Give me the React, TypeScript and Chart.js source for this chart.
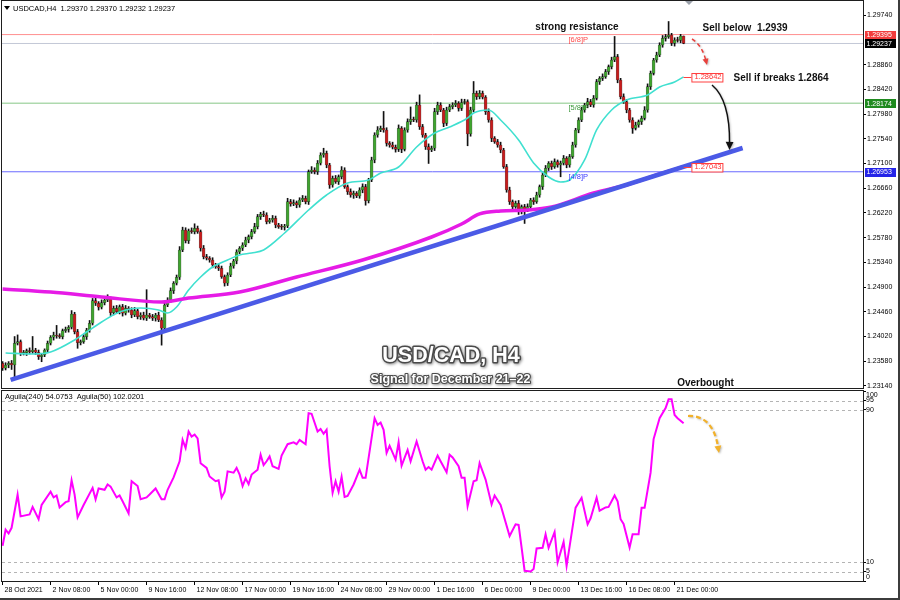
import React, { useEffect, useRef } from "react";
import { Chart, registerables } from "chart.js";

Chart.register(...registerables);

const FONT = '"Liberation Sans", Arial, sans-serif';

// ---------------- DATA ----------------
const firstOpen = 1.23544;

const closes = [
  1.23455, 1.23514, 1.23544, 1.23514, 1.239, 1.23929, 1.23722, 1.23733, 1.23768, 1.23751,
  1.23781, 1.2374, 1.23662, 1.23692, 1.23781, 1.239, 1.24007, 1.24048, 1.2403, 1.24018,
  1.24124, 1.24149, 1.24185, 1.24422, 1.24107, 1.23911, 1.23929, 1.24018, 1.24137, 1.24256,
  1.24658, 1.24612, 1.24541, 1.24623, 1.24671, 1.24694, 1.24445, 1.24523, 1.24463, 1.24552,
  1.24434, 1.24523, 1.24493, 1.24404, 1.2448, 1.24374, 1.24404, 1.24345, 1.24404, 1.24374,
  1.24345, 1.24404, 1.24315, 1.24167, 1.24582, 1.24671, 1.24836, 1.24968, 1.25075, 1.25561,
  1.25917, 1.25726, 1.25904, 1.25887, 1.25947, 1.25887, 1.25591, 1.25442, 1.25413, 1.25383,
  1.25294, 1.25264, 1.25235, 1.25086, 1.24968, 1.25116, 1.25276, 1.25365, 1.25525, 1.25591,
  1.2565, 1.25739, 1.25798, 1.25887, 1.25976, 1.26154, 1.26202, 1.26184, 1.26065, 1.26095,
  1.26125, 1.26006, 1.25976, 1.25965, 1.25988, 1.26421, 1.2638, 1.26403, 1.26362, 1.26451,
  1.26481, 1.26421, 1.26955, 1.26985, 1.26955, 1.27104, 1.27252, 1.27282, 1.27074, 1.26718,
  1.26837, 1.26777, 1.26866, 1.26985, 1.26688, 1.26599, 1.2654, 1.2657, 1.26522, 1.26629,
  1.26688, 1.26438, 1.26807, 1.27163, 1.27608, 1.27697, 1.27727, 1.27697, 1.2746, 1.2743,
  1.27389, 1.27353, 1.27727, 1.27353, 1.27697, 1.27845, 1.27887, 1.27875, 1.28142, 1.27756,
  1.27608, 1.274, 1.27341, 1.27371, 1.28023, 1.28142, 1.28053, 1.27816, 1.28053, 1.28112,
  1.28142, 1.28172, 1.28083, 1.28186, 1.28204, 1.27626, 1.28053, 1.2835, 1.2829, 1.2835,
  1.28279, 1.28023, 1.27875, 1.27549, 1.27489, 1.2743, 1.27341, 1.27044, 1.26629, 1.26421,
  1.26332, 1.26392, 1.26243, 1.26332, 1.26273, 1.26332, 1.26451, 1.26421, 1.2654, 1.26688,
  1.26896, 1.27015, 1.27104, 1.27044, 1.27133, 1.27074, 1.27104, 1.27193, 1.27074, 1.27222,
  1.2743, 1.27697, 1.27875, 1.28053, 1.28142, 1.28201, 1.28142, 1.28261, 1.28557, 1.28617,
  1.28646, 1.28735, 1.28824, 1.28943, 1.29002, 1.28587, 1.2829, 1.28201, 1.28053, 1.27875,
  1.27727, 1.27786, 1.27845, 1.27905, 1.28053, 1.28468, 1.28706, 1.28943, 1.29032, 1.2921,
  1.29329, 1.29358, 1.29388, 1.2924, 1.29299, 1.2929, 1.2937, 1.29237,
];

// upper / lower shadow length of each candle, in pips
const wickUpPips = [
  3, 4, 3, 5, 12, 12, 3, 4, 3, 5,
  24, 3, 4, 3, 2, 4, 3, 5, 17, 4,
  3, 4, 3, 6, 3, 4, 3, 4, 3, 5,
  4, 6, 3, 5, 4, 7, 3, 4, 5, 3,
  4, 5, 3, 4, 6, 3, 4, 5, 45, 3,
  4, 3, 5, 4, 3, 4, 5, 3, 4, 6,
  5, 4, 3, 5, 8, 4, 3, 5, 4, 3,
  4, 3, 5, 4, 3, 4, 5, 3, 4, 3,
  4, 5, 3, 4, 6, 4, 3, 5, 4, 3,
  5, 4, 3, 4, 3, 6, 4, 5, 3, 4,
  5, 4, 3, 6, 4, 5, 4, 9, 4, 3,
  4, 5, 3, 6, 4, 3, 5, 4, 3, 4,
  5, 4, 3, 5, 4, 6, 4, 30, 4, 3,
  5, 4, 6, 3, 4, 5, 22, 4, 5, 18,
  4, 3, 5, 4, 6, 5, 4, 3, 5, 4,
  4, 5, 3, 6, 4, 3, 5, 21, 4, 5,
  4, 3, 5, 4, 3, 4, 5, 3, 4, 5,
  3, 4, 5, 3, 4, 5, 3, 4, 5, 3,
  4, 5, 3, 4, 5, 3, 4, 5, 3, 4,
  5, 3, 4, 5, 3, 6, 4, 5, 4, 3,
  5, 4, 3, 5, 36, 4, 3, 5, 4, 3,
  4, 5, 3, 4, 6, 5, 4, 3, 5, 4,
  5, 4, 24, 3, 4, 5, 3, 0,
];
const wickDnPips = [
  4, 3, 5, 8, 21, 3, 4, 3, 5, 4,
  3, 4, 5, 9, 3, 4, 3, 5, 4, 3,
  4, 3, 5, 3, 4, 10, 4, 3, 5, 4,
  3, 4, 5, 3, 4, 3, 5, 4, 3, 4,
  5, 3, 4, 5, 3, 4, 5, 3, 4, 3,
  4, 5, 3, 30, 4, 3, 4, 5, 3, 4,
  3, 4, 5, 3, 4, 3, 5, 4, 3, 4,
  5, 3, 4, 3, 5, 4, 3, 4, 5, 3,
  4, 3, 5, 4, 3, 4, 5, 3, 4, 3,
  4, 5, 3, 4, 5, 3, 4, 3, 5, 4,
  3, 4, 5, 3, 4, 5, 3, 4, 5, 6,
  4, 3, 5, 4, 3, 5, 4, 6, 3, 4,
  5, 8, 4, 3, 5, 4, 3, 4, 5, 4,
  3, 5, 4, 6, 3, 4, 5, 3, 4, 5,
  4, 5, 24, 3, 4, 5, 3, 6, 4, 3,
  4, 3, 5, 4, 3, 21, 4, 3, 5, 4,
  3, 5, 4, 6, 3, 4, 5, 3, 4, 5,
  4, 3, 5, 4, 24, 3, 4, 5, 3, 4,
  5, 3, 4, 5, 3, 4, 21, 3, 5, 4,
  3, 4, 5, 3, 4, 5, 3, 4, 3, 5,
  4, 3, 5, 4, 3, 5, 4, 3, 5, 4,
  9, 3, 4, 5, 3, 4, 5, 3, 4, 3,
  4, 5, 3, 4, 5, 3, 4, 0.5,
];

const dateTickBars = [0, 16, 32, 48, 64, 80, 96, 112, 128, 144, 160, 176, 192, 208, 224];
const dateTickLabels = [
  "28 Oct 2021", "2 Nov 08:00", "5 Nov 00:00", "9 Nov 16:00", "12 Nov 08:00",
  "17 Nov 00:00", "19 Nov 16:00", "24 Nov 08:00", "29 Nov 00:00", "1 Dec 16:00",
  "6 Dec 00:00", "9 Dec 00:00", "13 Dec 16:00", "16 Dec 08:00", "21 Dec 00:00",
];

const priceTicks = [
  1.2314, 1.2358, 1.2402, 1.2446, 1.249, 1.2534, 1.2578, 1.2622, 1.2666,
  1.271, 1.2754, 1.2798, 1.2842, 1.2886, 1.2974,
];

// fast moving average (cyan)
const maFastBars = [1, 10, 16, 24, 28, 33, 39, 46, 52, 55, 58, 62, 66, 70, 75, 79, 83, 87, 94, 102, 108, 115, 122, 126, 132, 138, 144, 149, 155, 157, 162, 166, 172, 177, 182, 186, 189, 194, 198, 203, 208, 215, 219, 224, 227];
const maFastVals = [1.23727, 1.2371, 1.23745, 1.23959, 1.24101, 1.24279, 1.24457, 1.24528, 1.24493, 1.24439, 1.24546, 1.24849, 1.2508, 1.25258, 1.25383, 1.25472, 1.25507, 1.25561, 1.25863, 1.26273, 1.2654, 1.26753, 1.26807, 1.26931, 1.27038, 1.27394, 1.27643, 1.2775, 1.2791, 1.27999, 1.28053, 1.27875, 1.27519, 1.27109, 1.2686, 1.26771, 1.26807, 1.27163, 1.27697, 1.28053, 1.28231, 1.2832, 1.28462, 1.28551, 1.28642];

// slow moving average (magenta)
const maSlowBars = [0, 16, 33, 53, 62, 79, 98, 120, 143, 153, 159, 166, 175, 183, 197, 208, 219, 227];
const maSlowVals = [1.24867, 1.24813, 1.24724, 1.24635, 1.24706, 1.24813, 1.2508, 1.25383, 1.25792, 1.26024, 1.26202, 1.26255, 1.26273, 1.26326, 1.26575, 1.26718, 1.26914, 1.27043];

// rising trend line
const trendBars = [2.67, 246.67];
const trendVals = [1.23247, 1.27376];

// horizontal levels
const levelResistance = 1.29395;
const levelLast = 1.29237;
const level58 = 1.28174;
const level48 = 1.26953;

// oscillator (lower pane)
const aguilaBars = [
  0, 1, 2, 3, 5, 6, 9, 10, 12, 13,
  16, 17, 18, 19, 21, 22, 23, 24, 25, 27,
  30, 31, 32, 34, 35, 36, 38, 39, 40, 42,
  43, 45, 46, 48, 49, 51, 53, 54, 55, 57,
  59, 60, 61, 62, 63, 64, 65, 66, 68, 69,
  71, 72, 73, 74, 75, 77, 78, 79, 80, 81,
  82, 83, 85, 86, 87, 88, 89, 90, 92, 93,
  95, 97, 98, 99, 101, 102, 103, 105, 106, 107,
  108, 109, 110, 111, 112, 113, 114, 115, 117, 119,
  120, 121, 124, 125, 126, 127, 128, 129, 131, 132,
  133, 135, 136, 138, 140, 141, 142, 143, 145, 146,
  148, 149, 150, 152, 153, 154, 155, 157, 158, 159,
  161, 163, 164, 166, 169, 171, 172, 173, 174, 176,
  177, 178, 180, 181, 182, 184, 185, 187, 188, 191,
  193, 195, 196, 198, 199, 201, 202, 204, 205, 206,
  207, 209, 210, 212, 213, 214, 216, 217, 219, 221,
  222, 223, 224, 225, 227,
];
const aguilaVals = [
  18.5, 27, 25, 28, 45.5, 34, 35, 39, 32.5, 40,
  47, 44, 45, 38.7, 41.5, 42, 53, 45.5, 33.5, 40,
  49, 43, 48.7, 48, 50.8, 49.7, 44, 45, 42, 35.6,
  52.5, 50, 43, 44, 45.5, 48.7, 43, 43, 48, 54.5,
  63, 74.3, 70, 78.7, 76, 77, 75, 62, 59.5, 55,
  52.5, 53, 44, 47, 57.7, 57, 59.5, 56, 50, 54,
  51, 56, 58.6, 66.5, 61, 63, 65.6, 60.4, 59, 66,
  72, 73, 72, 74.3, 72, 88.3, 88, 78.7, 80, 77.5,
  79.6, 60.4, 46.4, 52.5, 47, 54.8, 44.3, 44.8, 50.8, 58.6,
  54.3, 54.3, 85.7, 82.2, 83.4, 79.6, 67.4, 71.2, 63.9, 73,
  60.7, 69, 63, 73.5, 63, 58.6, 60, 58.6, 66, 63,
  57.2, 66.5, 65, 60.4, 54.3, 54.3, 39.4, 52.5, 53, 62,
  53.4, 40.3, 45, 40, 23.7, 29.8, 29.5, 17.6, 5.4, 5,
  6.3, 17.1, 17.5, 24.6, 17.5, 25.8, 9.8, 20.6, 8, 38.6,
  43.8, 29.8, 33, 43.8, 37, 38.7, 39, 45, 42, 32.5,
  30, 17.6, 24.6, 24.6, 38.6, 38.6, 57, 74.7, 85.7, 91,
  95.6, 95.6, 87.4, 85.7, 83,
];
const aguilaLevels = [5, 10, 90, 95];
const aguilaTicks = [0, 5, 10, 90, 95, 100];

// ---------------- LAYOUT CONSTANTS ----------------
const X_MIN = -0.2;
const X_MAX = 286.8;
const AXIS_W = 37;

const opens = closes.map((c, i) => (i === 0 ? firstOpen : closes[i - 1]));
const highs = closes.map((c, i) => Math.max(c, opens[i]) + wickUpPips[i] * 0.0001);
const lows = closes.map((c, i) => Math.min(c, opens[i]) - wickDnPips[i] * 0.0001);

function drawArrow(ctx: CanvasRenderingContext2D, p: number[], color: string, dash: number[], width: number, head: number) {
  const [x0, y0, cx, cy, x1, y1] = p;
  ctx.save();
  ctx.shadowColor = "rgba(0,0,0,0.25)";
  ctx.shadowBlur = 2;
  ctx.shadowOffsetX = 1;
  ctx.shadowOffsetY = 1;
  ctx.strokeStyle = color;
  ctx.fillStyle = color;
  ctx.lineWidth = width;
  ctx.setLineDash(dash);
  const ang = Math.atan2(y1 - cy, x1 - cx);
  const ex = x1 - Math.cos(ang) * head * 0.7;
  const ey = y1 - Math.sin(ang) * head * 0.7;
  ctx.beginPath();
  ctx.moveTo(x0, y0);
  ctx.quadraticCurveTo(cx, cy, ex, ey);
  ctx.stroke();
  ctx.setLineDash([]);
  ctx.beginPath();
  ctx.moveTo(x1, y1);
  ctx.lineTo(x1 - Math.cos(ang - 0.45) * head, y1 - Math.sin(ang - 0.45) * head);
  ctx.lineTo(x1 - Math.cos(ang + 0.45) * head, y1 - Math.sin(ang + 0.45) * head);
  ctx.closePath();
  ctx.fill();
  ctx.restore();
}

function outlinedText(ctx: CanvasRenderingContext2D, text: string, x: number, y: number, font: string, stroke: number) {
  ctx.save();
  ctx.font = font;
  ctx.textAlign = "center";
  ctx.textBaseline = "middle";
  ctx.lineJoin = "round";
  ctx.shadowColor = "rgba(0,0,0,0.45)";
  ctx.shadowBlur = 3;
  ctx.shadowOffsetX = 1;
  ctx.shadowOffsetY = 1;
  ctx.strokeStyle = "#4a4a4a";
  ctx.lineWidth = stroke;
  ctx.strokeText(text, x, y);
  ctx.shadowColor = "transparent";
  ctx.fillStyle = "#ffffff";
  ctx.fillText(text, x, y);
  ctx.restore();
}

const mainDecor = {
  id: "mainDecor",
  afterDatasetsDraw(chart: any) {
    const { ctx, chartArea: a, scales } = chart;
    const xs = scales.x;
    const ys = scales.y;
    ctx.save();

    // pane frame
    ctx.strokeStyle = "#1e1e1e";
    ctx.lineWidth = 1;
    ctx.strokeRect(a.left - 0.5, a.top - 0.5, a.right - a.left + 1, a.bottom - a.top + 1);

    // header
    ctx.fillStyle = "#000";
    ctx.beginPath();
    ctx.moveTo(4, 6);
    ctx.lineTo(10, 6);
    ctx.lineTo(7, 10);
    ctx.closePath();
    ctx.fill();
    ctx.font = `7.5px ${FONT}`;
    ctx.textAlign = "left";
    ctx.textBaseline = "middle";
    ctx.fillText("USDCAD,H4  1.29370 1.29370 1.29232 1.29237", 13, 8.5);

    // shift marker
    ctx.fillStyle = "#9aa0aa";
    ctx.beginPath();
    ctx.moveTo(685, 1);
    ctx.lineTo(693, 1);
    ctx.lineTo(689, 5);
    ctx.closePath();
    ctx.fill();

    // Murrey-style tags on the levels
    const tagX = xs.getPixelForValue(188.6);
    ctx.font = `7.5px ${FONT}`;
    ctx.textAlign = "left";
    ctx.textBaseline = "middle";
    [
      { t: "[6/8]P", v: levelResistance, c: "#ff4a4a" },
      { t: "[5/8]P", v: level58, c: "#3f9a3f" },
      { t: "[4/8]P", v: level48, c: "#3a3aff" },
    ].forEach((g) => {
      ctx.fillStyle = g.c;
      ctx.fillText(g.t, tagX, ys.getPixelForValue(g.v) + 5);
    });

    // moving average value tags
    const lastBarX = xs.getPixelForValue(closes.length - 1);
    const boxX = xs.getPixelForValue(229.6);
    [maFastVals[maFastVals.length - 1], maSlowVals[maSlowVals.length - 1]].forEach((v) => {
      const py = ys.getPixelForValue(v);
      ctx.strokeStyle = "#ff4040";
      ctx.lineWidth = 1;
      ctx.beginPath();
      ctx.moveTo(lastBarX, Math.round(py) + 0.5);
      ctx.lineTo(boxX, Math.round(py) + 0.5);
      ctx.stroke();
      ctx.fillStyle = "#ffffff";
      ctx.fillRect(boxX + 0.5, Math.round(py) - 4, 31, 9);
      ctx.strokeRect(boxX + 0.5, Math.round(py) - 3.5, 31, 8.5);
      ctx.fillStyle = "#ff3030";
      ctx.font = `7.5px ${FONT}`;
      ctx.fillText(v.toFixed(5), boxX + 3, py + 0.5);
    });

    // price tags on right axis
    [
      { v: levelResistance, bg: "#f23c3c" },
      { v: levelLast, bg: "#000000" },
      { v: level58, bg: "#1f8a1f" },
      { v: level48, bg: "#2424e8" },
    ].forEach((g) => {
      const py = ys.getPixelForValue(g.v);
      ctx.fillStyle = g.bg;
      ctx.fillRect(a.right + 2, Math.round(py) - 4, 31, 9);
      ctx.fillStyle = "#ffffff";
      ctx.font = `7px ${FONT}`;
      ctx.fillText(g.v.toFixed(5), a.right + 3.5, py + 0.5);
    });

    // annotations
    ctx.fillStyle = "#111";
    ctx.font = `bold 10px ${FONT}`;
    ctx.textAlign = "center";
    ctx.fillText("strong resistance", 577, 27.5);
    ctx.textAlign = "left";
    ctx.fillText("Sell below  1.2939", 702.5, 28);
    ctx.fillText("Sell if breaks 1.2864", 733.5, 78.5);
    ctx.textAlign = "center";
    ctx.fillText("Overbought", 705.5, 383);

    outlinedText(ctx, "USD/CAD, H4", 451, 356, `bold 21.5px ${FONT}`, 3);
    outlinedText(ctx, "Signal for December 21\u201322", 450.5, 380, `bold 12.5px ${FONT}`, 2.2);

    drawArrow(ctx, [692, 39, 702, 45, 707, 65], "#e8403c", [4, 3], 1.5, 7);
    drawArrow(ctx, [712, 85, 730, 100, 729.5, 150], "#111111", [], 1.5, 9);

    ctx.restore();
  },
};

const subDecor = {
  id: "subDecor",
  beforeDatasetsDraw(chart: any) {
    const { ctx, chartArea: a, scales } = chart;
    ctx.save();
    ctx.strokeStyle = "#b4b4b4";
    ctx.lineWidth = 1;
    ctx.setLineDash([3, 3]);
    aguilaLevels.forEach((v) => {
      const py = Math.round(scales.y.getPixelForValue(v)) + 0.5;
      ctx.beginPath();
      ctx.moveTo(a.left, py);
      ctx.lineTo(a.right, py);
      ctx.stroke();
    });
    ctx.restore();
  },
  afterDatasetsDraw(chart: any) {
    const { ctx, chartArea: a, scales } = chart;
    ctx.save();
    ctx.strokeStyle = "#1e1e1e";
    ctx.lineWidth = 1;
    ctx.strokeRect(a.left - 0.5, a.top - 0.5, a.right - a.left + 1, a.bottom - a.top + 1);

    ctx.fillStyle = "#000";
    ctx.font = `7.5px ${FONT}`;
    ctx.textAlign = "left";
    ctx.textBaseline = "middle";
    ctx.fillText("Aguila(240) 54.0753  Aguila(50) 102.0201", 5, 7);

    ctx.font = `7px ${FONT}`;
    aguilaTicks.forEach((v) => {
      let py = scales.y.getPixelForValue(v);
      py = Math.max(a.top + 4, Math.min(a.bottom - 4, py));
      ctx.fillText(String(v), a.right + 3, py);
    });

    drawArrow(ctx, [688, 26, 713, 25, 719, 63], "#f2b12a", [5, 3], 2.2, 8);
    ctx.restore();
  },
};

function mainConfig(): any {
  const bodies = closes.map((c, i) => ({ x: i, y: [opens[i], c] }));
  const wicks = closes.map((c, i) => ({ x: i, y: [lows[i], highs[i]] }));
  const bodyColors = closes.map((c, i) => (c >= opens[i] ? "#3fa52e" : "#c81c1c"));
  const hLine = (v: number, color: string, order: number) => ({
    type: "line",
    data: [{ x: X_MIN, y: v }, { x: X_MAX, y: v }],
    borderColor: color,
    borderWidth: 1,
    pointRadius: 0,
    order,
  });
  return {
    type: "bar",
    data: {
      datasets: [
        {
          type: "line",
          data: trendBars.map((b, i) => ({ x: b, y: trendVals[i] })),
          borderColor: "#4b5ae6",
          borderWidth: 4.5,
          pointRadius: 0,
          order: 1,
        },
        {
          type: "line",
          data: maSlowBars.map((b, i) => ({ x: b, y: maSlowVals[i] })),
          borderColor: "#e61be6",
          borderWidth: 3.5,
          pointRadius: 0,
          cubicInterpolationMode: "monotone",
          order: 2,
        },
        {
          type: "line",
          data: maFastBars.map((b, i) => ({ x: b, y: maFastVals[i] })),
          borderColor: "#40e0d0",
          borderWidth: 1.6,
          pointRadius: 0,
          cubicInterpolationMode: "monotone",
          order: 3,
        },
        {
          type: "bar",
          data: bodies,
          backgroundColor: bodyColors,
          borderColor: "rgba(0,0,0,0.55)",
          borderWidth: 0.6,
          borderSkipped: false,
          barThickness: 3,
          minBarLength: 1,
          grouped: false,
          order: 4,
        },
        {
          type: "bar",
          data: wicks,
          backgroundColor: "#111111",
          borderWidth: 0,
          barThickness: 1,
          grouped: false,
          order: 5,
        },
        hLine(levelResistance, "#ff8f8f", 6),
        hLine(levelLast, "#c3c8d6", 7),
        hLine(level58, "#86c786", 8),
        hLine(level48, "#6a6aff", 9),
      ],
    },
    options: {
      animation: false,
      responsive: false,
      devicePixelRatio: 1,
      layout: { padding: { top: 1, left: 2, right: 0, bottom: 2 } },
      plugins: { legend: { display: false }, tooltip: { enabled: false } },
      scales: {
        x: { type: "linear", min: X_MIN, max: X_MAX, display: false, offset: false },
        y: {
          position: "right",
          min: 1.23104,
          max: 1.29993,
          afterFit: (s: any) => {
            s.width = AXIS_W;
            s.paddingTop = 0;
            s.paddingBottom = 0;
          },
          afterBuildTicks: (s: any) => {
            s.ticks = priceTicks.map((v) => ({ value: v }));
          },
          ticks: {
            callback: (v: any) => Number(v).toFixed(5),
            font: { size: 7, family: FONT },
            color: "#000",
            padding: 1,
            autoSkip: false,
          },
          grid: { drawOnChartArea: false, drawTicks: true, tickLength: 3, color: "#000" },
          border: { display: false },
        },
      },
    },
    plugins: [mainDecor],
  };
}

function subConfig(): any {
  return {
    type: "line",
    data: {
      datasets: [
        {
          data: aguilaBars.map((b, i) => ({ x: b, y: aguilaVals[i] })),
          borderColor: "#ff00ff",
          borderWidth: 2,
          pointRadius: 0,
          tension: 0,
        },
      ],
    },
    options: {
      animation: false,
      responsive: false,
      devicePixelRatio: 1,
      layout: { padding: { top: 1, left: 2, right: 0, bottom: 0 } },
      plugins: { legend: { display: false }, tooltip: { enabled: false } },
      scales: {
        x: {
          type: "linear",
          min: X_MIN,
          max: X_MAX,
          offset: false,
          afterFit: (s: any) => {
            s.height = 19;
            s.paddingLeft = 0;
            s.paddingRight = 0;
          },
          afterBuildTicks: (s: any) => {
            s.ticks = dateTickBars.map((v) => ({ value: v }));
          },
          ticks: {
            callback: (v: any) => {
              const k = dateTickBars.indexOf(Number(v));
              return k >= 0 ? dateTickLabels[k] : "";
            },
            align: "start",
            labelOffset: 2,
            maxRotation: 0,
            autoSkip: false,
            font: { size: 7, family: FONT },
            color: "#000",
            padding: 1,
          },
          grid: { drawOnChartArea: false, drawTicks: true, tickLength: 4, color: "#000" },
          border: { display: false },
        },
        y: {
          position: "right",
          min: 0,
          max: 100,
          afterFit: (s: any) => {
            s.width = AXIS_W;
            s.paddingTop = 0;
            s.paddingBottom = 0;
          },
          afterBuildTicks: (s: any) => {
            s.ticks = aguilaTicks.map((v) => ({ value: v }));
          },
          ticks: { callback: () => "", autoSkip: false },
          grid: { drawOnChartArea: false, drawTicks: true, tickLength: 3, color: "#000" },
          border: { display: false },
        },
      },
    },
    plugins: [subDecor],
  };
}

export default function App() {
  const mainRef = useRef<HTMLCanvasElement>(null);
  const subRef = useRef<HTMLCanvasElement>(null);

  useEffect(() => {
    const c1 = new Chart(mainRef.current as HTMLCanvasElement, mainConfig());
    const c2 = new Chart(subRef.current as HTMLCanvasElement, subConfig());
    return () => {
      c1.destroy();
      c2.destroy();
    };
  }, []);

  return (
    <div
      style={{
        position: "fixed",
        left: 0,
        top: 0,
        width: 900,
        height: 600,
        background: "#ffffff",
        boxSizing: "border-box",
        borderRight: "2px solid #3c3c3c",
        borderBottom: "2px solid #3c3c3c",
        overflow: "hidden",
      }}
    >
      <canvas
        ref={mainRef}
        width={900}
        height={390}
        style={{ position: "absolute", left: 0, top: 0, width: 900, height: 390 }}
      />
      <canvas
        ref={subRef}
        width={900}
        height={210}
        style={{ position: "absolute", left: 0, top: 390, width: 900, height: 210 }}
      />
    </div>
  );
}
